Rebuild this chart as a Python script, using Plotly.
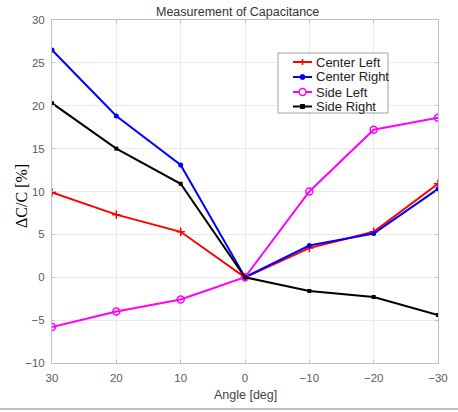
import plotly.graph_objects as go

angles = [30, 20, 10, 0, -10, -20, -30]
center_left = [9.9, 7.3, 5.3, 0.0, 3.4, 5.3, 10.9]
center_right = [26.5, 18.8, 13.1, 0.0, 3.7, 5.1, 10.3]
side_left = [-5.8, -4.0, -2.6, 0.0, 10.0, 17.2, 18.6]
side_right = [20.3, 15.0, 10.9, 0.0, -1.6, -2.3, -4.4]
series_names = ["Center Left", "Center Right", "Side Left", "Side Right"]

x_ticks = [30, 20, 10, 0, -10, -20, -30]
x_tick_labels = ["30", "20", "10", "0", "\u221210", "\u221220", "\u221230"]
y_ticks = [-10, -5, 0, 5, 10, 15, 20, 25, 30]
y_tick_labels = ["\u221210", "\u22125", "0", "5", "10", "15", "20", "25", "30"]

W, H = 458, 412
L, R, T, B = 52, 20, 20, 49
PW, PH = W - L - R, H - T - B

def px(x):
    return (x - L) / PW

def py(y):
    return (H - B - y) / PH

fig = go.Figure()
colors = ["#ff0000", "#0000ff", "#ff00ff", "#000000"]
markers = [
    dict(symbol="cross-thin", size=6, line=dict(width=1.5, color="#ff0000")),
    dict(symbol="circle", size=5),
    dict(symbol="circle-open", size=7, line=dict(width=1.5)),
    dict(symbol="square", size=4),
]
for name, vals, color, marker in zip(series_names, [center_left, center_right, side_left, side_right], colors, markers):
    m = dict(color=color)
    m.update(marker)
    fig.add_trace(go.Scatter(x=angles, y=vals, name=name, mode="lines+markers",
                             line=dict(color=color, width=2), marker=m, showlegend=False))

axis_common = dict(showgrid=True, gridcolor="#ebebeb", gridwidth=1, zeroline=False,
                   showline=True, linecolor="#bfbfbf", linewidth=1, mirror="ticks",
                   ticks="inside", ticklen=3, tickcolor="#bfbfbf", automargin=False,
                   tickfont=dict(family="Liberation Sans, Arial", size=11.5, color="#5a5a5a"))

fig.update_xaxes(range=[30, -30], tickvals=x_ticks, ticktext=x_tick_labels, ticklabelstandoff=4,
                 **axis_common)
fig.update_yaxes(range=[-10, 30], tickvals=y_ticks, ticktext=y_tick_labels, ticklabelstandoff=4,
                 **axis_common)

fig.update_layout(
    width=W, height=H,
    margin=dict(l=L, r=R, t=T, b=B),
    paper_bgcolor="white", plot_bgcolor="white",
    showlegend=False,
)

# title and axis titles
fig.add_annotation(text="Measurement of Capacitance", xref="paper", yref="paper",
                   x=px(237), y=py(12), xanchor="center", yanchor="middle", showarrow=False,
                   font=dict(family="Liberation Sans, Arial", size=12.5, color="#333333"))
fig.add_annotation(text="Angle [deg]", xref="paper", yref="paper",
                   x=px(245), y=py(395), xanchor="center", yanchor="middle", showarrow=False,
                   font=dict(family="Liberation Sans, Arial", size=12.5, color="#444444"))
fig.add_annotation(text="\u0394C/C [%]", xref="paper", yref="paper", textangle=-90,
                   x=px(21), y=py(196), xanchor="center", yanchor="middle", showarrow=False,
                   font=dict(family="Liberation Serif, Times New Roman", size=16, color="#000000"))

# bottom divider line of the figure
fig.add_shape(type="line", xref="paper", yref="paper", x0=px(0), x1=px(W),
              y0=py(409), y1=py(409), line=dict(color="#a8a8a8", width=1.5))

# legend box drawn manually
fig.add_shape(type="rect", xref="paper", yref="paper", x0=px(278), x1=px(388),
              y0=py(113), y1=py(53), line=dict(color="#a0a0a0", width=1), fillcolor="white", layer="above")
row_y = [62, 77, 92, 106.5]
lx0, lx1, lxm = 293, 312, 302.5
for name, color, yy, i in zip(series_names, colors, row_y, range(4)):
    fig.add_shape(type="line", xref="paper", yref="paper", x0=px(lx0), x1=px(lx1),
                  y0=py(yy), y1=py(yy), line=dict(color=color, width=2), layer="above")
    if i == 0:
        fig.add_shape(type="line", xref="paper", yref="paper", x0=px(lxm), x1=px(lxm),
                      y0=py(yy - 3), y1=py(yy + 3), line=dict(color=color, width=1.5), layer="above")
    elif i == 1:
        fig.add_shape(type="circle", xref="paper", yref="paper", x0=px(lxm - 2.5), x1=px(lxm + 2.5),
                      y0=py(yy + 2.5), y1=py(yy - 2.5), line=dict(color=color, width=1), fillcolor=color, layer="above")
    elif i == 2:
        fig.add_shape(type="circle", xref="paper", yref="paper", x0=px(lxm - 3.5), x1=px(lxm + 3.5),
                      y0=py(yy + 3.5), y1=py(yy - 3.5), line=dict(color=color, width=1.5), fillcolor="white", layer="above")
    else:
        fig.add_shape(type="rect", xref="paper", yref="paper", x0=px(lxm - 2), x1=px(lxm + 2),
                      y0=py(yy + 2), y1=py(yy - 2), line=dict(color=color, width=1), fillcolor=color, layer="above")
    fig.add_annotation(text=name, xref="paper", yref="paper", x=px(314), y=py(yy),
                       xanchor="left", yanchor="middle", showarrow=False,
                       font=dict(family="Liberation Sans, Arial", size=13, color="#222222"))

fig.write_html("out.html", config={"displayModeBar": False},
               post_script="document.body.style.margin='0';document.body.style.overflow='hidden';")
